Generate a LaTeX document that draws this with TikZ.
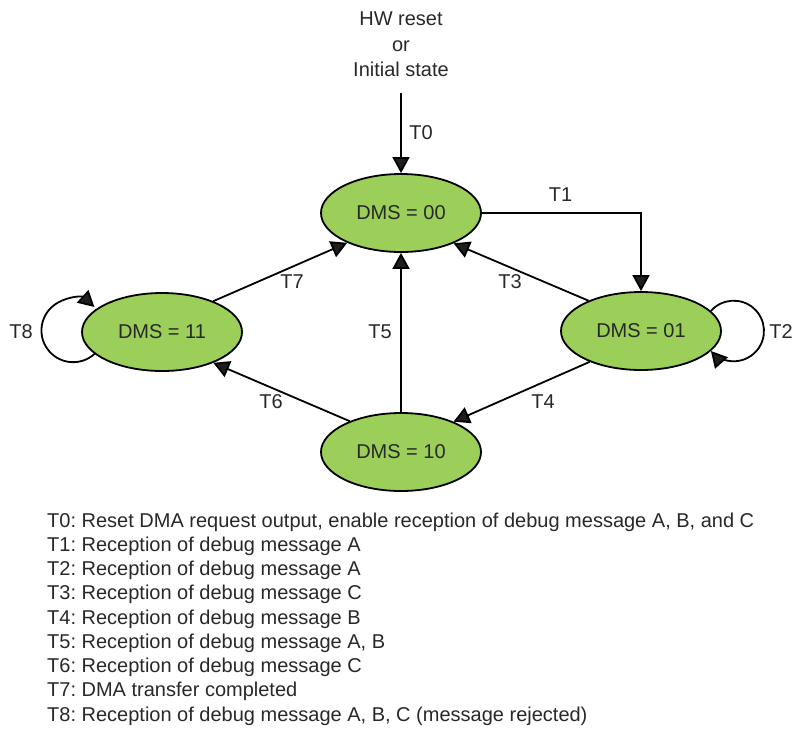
\documentclass[tikz,border=0pt]{standalone}
\usepackage{fontspec}
\setmainfont{Liberation Sans}
\usetikzlibrary{arrows.meta,shapes.geometric}
\definecolor{stgreen}{RGB}{155,207,90}
\definecolor{txt}{RGB}{40,40,40}
\definecolor{headc}{RGB}{30,30,30}
\frenchspacing
\begin{document}
\begin{tikzpicture}[x=1pt,y=-1pt,
  every node/.style={text=txt,font=\fontsize{20}{24}\selectfont},
  state/.style={ellipse,draw=black,line width=1.8pt,fill=stgreen,minimum width=160pt,minimum height=78pt,inner sep=0pt},
  lbl/.style={inner sep=0pt},
  arr/.style={line width=1.8pt,draw=black,-{Triangle[length=16pt,width=17pt,fill=headc]}}
]
\useasboundingbox (0,0) rectangle (792,732);
% initial text
\node[lbl,align=center,font=\fontsize{20}{25.5}\selectfont] (init) at (401,44.5) {HW reset\\or\\Initial state};
\coordinate (t0s) at (401,93);
% states
\node[state] (e00) at (401,213) {DMS = 00};
\node[state] (e11) at (162,332) {DMS = 11};
\node[state] (e01) at (641,331) {DMS = 01};
\node[state] (e10) at (401,452) {DMS = 10};
% connectors
\draw[arr] (t0s) -- (e00.north);
\draw[arr] (e00.east) -| (e01.north);
\draw[arr] (e01.150.4) -- (e00.330.5);
\draw[arr] (e01.211) -- (e10.30);
\draw[arr] (e10.north) -- (e00.south);
\draw[arr] (e10.149.5) -- (e11.329.5);
\draw[arr] (e11.31) -- (e00.209.5);
\draw[arr] (e11.198) arc[start angle=-47.8,end angle=-312.2,radius=31.7pt];
\draw[arr] (e01.16) arc[start angle=138.6,end angle=-138.6,radius=30.3pt];
% labels
\node[lbl] (l0) at (421,133) {T0};
\node[lbl] (l1) at (560.5,195) {T1};
\node[lbl] (l2) at (781,332) {T2};
\node[lbl] (l3) at (510,282) {T3};
\node[lbl] (l4) at (543,402) {T4};
\node[lbl] (l5) at (380,332) {T5};
\node[lbl] (l6) at (271,402) {T6};
\node[lbl] (l7) at (292,282) {T7};
\node[lbl] (l8) at (21,332) {T8};
% legend
\node[lbl,anchor=base west,align=left,font=\fontsize{20}{24.25}\selectfont] (legend) at (47,721) {T0: Reset DMA request output, enable reception of debug message A, B, and C\\
T1: Reception of debug message A\\
T2: Reception of debug message A\\
T3: Reception of debug message C\\
T4: Reception of debug message B\\
T5: Reception of debug message A, B\\
T6: Reception of debug message C\\
T7: DMA transfer completed\\
T8: Reception of debug message A, B, C (message rejected)};
\end{tikzpicture}
\end{document}
